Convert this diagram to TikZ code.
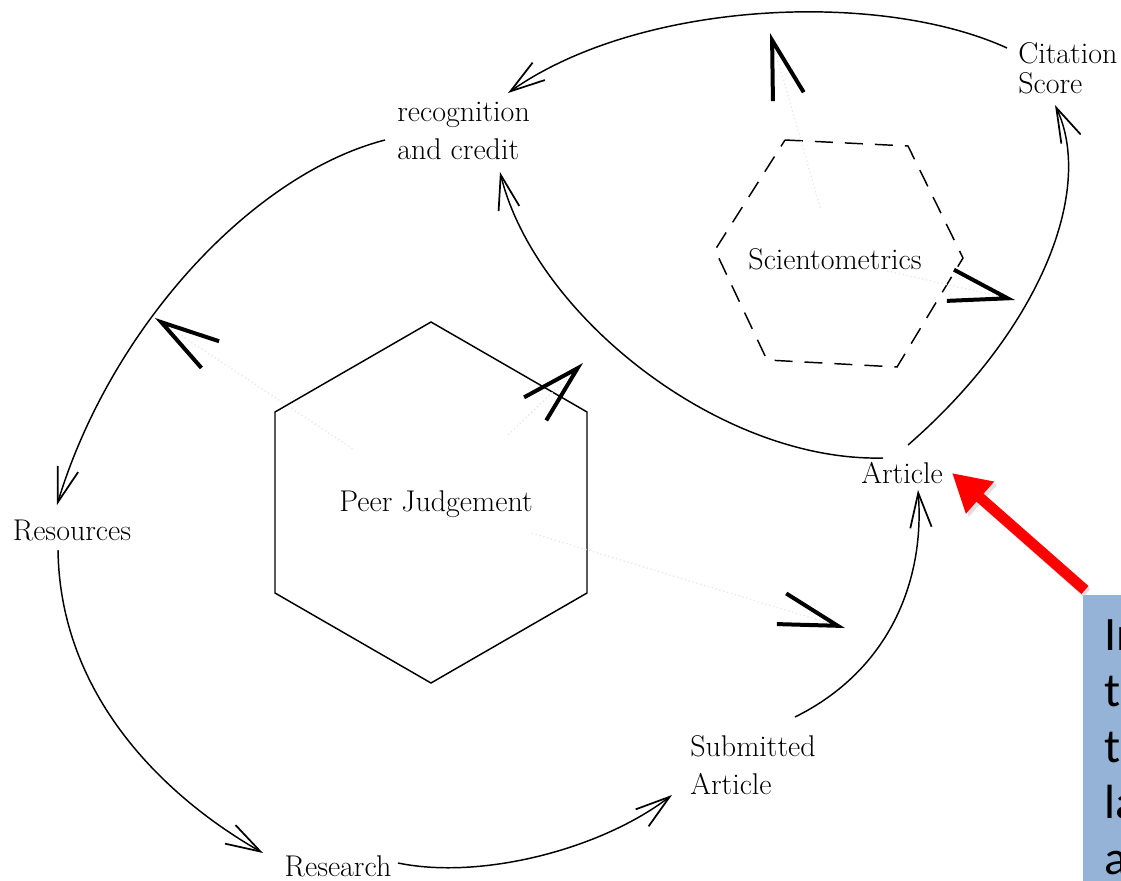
\documentclass[tikz,border=0pt]{standalone}
\usepackage{fontspec}
\newfontfamily\calibrifont{Carlito}
\usetikzlibrary{arrows.meta}
\definecolor{boxblue}{RGB}{149,179,215}
\begin{document}
\begin{tikzpicture}[x=0.75pt,y=-0.75pt,
  lbl/.style={font=\fontsize{22.5}{29}\selectfont, inner sep=0pt, align=left},
  flow/.style={line width=1.1pt, -{Straight Barb[length=26pt,width=16pt,line width=1.3pt]}},
  infl/.style={gray!18, line width=1pt, dotted, -{Straight Barb[color=black,length=44pt,width=24pt,line width=3pt]}},
  hexline/.style={line width=1.1pt, line join=miter},
  dashhex/.style={line width=1.1pt, dash pattern=on 13.5pt off 9pt},
  redarrow/.style={red, line width=8pt, -{Triangle[length=28pt,width=30pt]}},
]
\useasboundingbox (0,0) rectangle (1121,881);
\clip (0,0) rectangle (1121,881);

% hexagons
\draw[hexline] (431,322) -- (587,412) -- (587,593) -- (431,683) -- (275,593) -- (275,412) -- cycle;
\draw[dashhex] (785,140) -- (908,146) -- (963,258) -- (897,367) -- (767,360) -- (715,250) -- cycle;

% labels
\node[lbl, anchor=west, font=\fontsize{22.5}{22.5}\selectfont] (cit) at (1018,68) {Citation\\Score};
\node[lbl, anchor=west] (rec) at (397,131) {recognition\\and credit};
\node[lbl] (sci) at (835,259) {Scientometrics};
\node[lbl] (pj) at (436,504) {Peer Judgement};
\node[lbl] (art) at (902,473) {Article};
\node[lbl] (res) at (72,530) {Resources};
\node[lbl] (rsch) at (338,866) {Research};
\node[lbl, anchor=west] (sub) at (690,765) {Submitted\\Article};

% influence tips
\coordinate (t1) at (155,318);
\coordinate (t2) at (583,363);
\coordinate (t3) at (845,628);
\coordinate (t4) at (770,33);
\coordinate (t5) at (1015,300);
\draw[infl, shorten <=75pt] (pj.center) -- (t1);
\draw[infl, shorten <=75pt] (pj.center) -- (t2);
\draw[infl, shorten <=75pt] (pj.center) -- (t3);
\draw[infl, shorten <=40pt] (sci.center) -- (t4);
\draw[infl, shorten <=40pt] (sci.center) -- (t5);

% cycle arrows
\draw[flow] ([shift={(-11,-20)}]cit.west) .. controls (880,-10) and (640,0) .. ([shift={(111,-38)}]rec.west);
\draw[flow] ([shift={(-19,-15)}]art.center) .. controls (720,462) and (535,315) .. ([shift={(103,41)}]rec.west);
\draw[flow] ([shift={(6,-28)}]art.center) .. controls (1040,330) and (1095,190) .. ([shift={(37,37)}]cit.west);
\draw[flow] ([shift={(-12,9)}]rec.west) .. controls (250,175) and (110,330) .. ([shift={(-15,-25)}]res.center);
\draw[flow] ([shift={(-14,20)}]res.center) .. controls (60,700) and (170,800) .. ([shift={(-75,-13)}]rsch.center);
\draw[flow] ([shift={(60,-3)}]rsch.center) .. controls (480,880) and (600,850) .. ([shift={(-18,30)}]sub.west);
\draw[flow] ([shift={(105,-48)}]sub.west) .. controls (890,670) and (925,580) .. ([shift={(16,17)}]art.center);

% callout
\node[fill=boxblue, anchor=north west, minimum width=60pt, minimum height=230pt, inner sep=0pt] (box) at (1083,595) {};
\node[anchor=north west, inner sep=0pt, align=left, font=\calibrifont\fontsize{36}{42}\selectfont] (note) at (1104,619) {In\\t\\t\\la\\a};
\draw[black!25, line width=8pt, -{Triangle[length=28pt,width=30pt]}, opacity=0.5] ([shift={(4,-2)}]box.north west) -- ([shift={(53,3)}]art.center);
\draw[redarrow] ([shift={(2,-5)}]box.north west) -- ([shift={(50,0)}]art.center);
\end{tikzpicture}
\end{document}
